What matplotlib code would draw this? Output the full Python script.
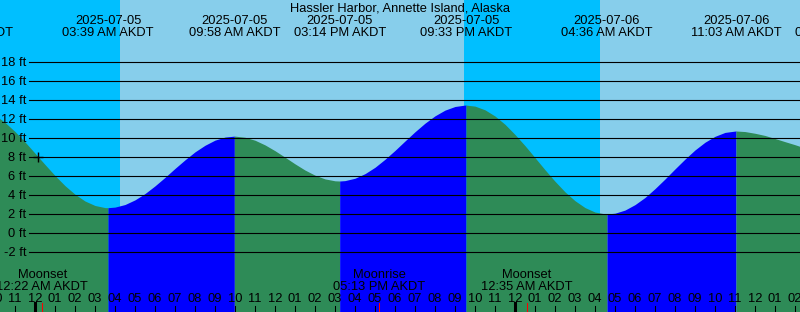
import matplotlib.pyplot as plt

plt.rcParams['font.family'] = ['Liberation Sans', 'DejaVu Sans']

# half-hourly readings, hours relative to midnight starting 2025-07-05 (AKDT)
hours = [h / 2 for h in range(-4, 80)]
heights = [12.41, 11.64, 10.68, 9.59, 8.41, 7.22, 6.06, 5.00, 4.10, 3.39,
           2.92, 2.70, 2.75, 3.02, 3.51, 4.17, 4.98, 5.87, 6.81, 7.71,
           8.55, 9.24, 9.78, 10.10, 10.20, 10.08, 9.77, 9.28, 8.67, 7.99,
           7.29, 6.64, 6.10, 5.71, 5.51, 5.53, 5.78, 6.26, 6.93, 7.77,
           8.70, 9.69, 10.66, 11.56, 12.33, 12.93, 13.31, 13.46, 13.35, 12.96,
           12.31, 11.44, 10.37, 9.20, 7.94, 6.67, 5.46, 4.35, 3.42, 2.70,
           2.23, 2.04, 2.11, 2.44, 3.01, 3.76, 4.69, 5.70, 6.76, 7.79,
           8.75, 9.56, 10.18, 10.59, 10.73, 10.68, 10.50, 10.27, 9.95, 9.62,
           9.30, 8.95, 8.60, 8.25]

# tide extremes (time in hours, height in ft)
event_times = [-3.4, 3.65, 9.967, 15.233, 21.55, 28.6, 35.05, 40.33]
event_heights = [13.3, 2.69, 10.2, 5.49, 13.46, 2.03, 10.74, 7.6]
event_dates = ['2025-07-04', '2025-07-05', '2025-07-05', '2025-07-05',
               '2025-07-05', '2025-07-06', '2025-07-06', '2025-07-06']
event_clock = ['08:36 PM AKDT', '03:39 AM AKDT', '09:58 AM AKDT', '03:14 PM AKDT',
               '09:33 PM AKDT', '04:36 AM AKDT', '11:03 AM AKDT', '04:20 PM AKDT']

sunrise = [4.25, 28.25]
sunset = [21.45]

moon_times = [0.367, 17.217, 24.583]
moon_names = ['Moonset', 'Moonrise', 'Moonset']
moon_clock = ['12:22 AM AKDT', '05:13 PM AKDT', '12:35 AM AKDT']

mark_time, mark_level = 0.13, 8.03

NIGHT = '#00bfff'
DAY = '#87ceeb'
RISING = '#0000ff'
FALLING = '#2e8b57'
FS = 9.3

W, H = 800, 312
fig = plt.figure(figsize=(W / 100, H / 100), dpi=100)
ax = fig.add_axes([0, 0, 1, 1])
x0, x1 = -1.75, 38.25
y0, y1 = -8.26, 24.49
ax.set_xlim(x0, x1)
ax.set_ylim(y0, y1)
ax.axis('off')

# sky: night / day bands
ax.axvspan(x0, sunrise[0], color=NIGHT, lw=0)
ax.axvspan(sunrise[0], sunset[0], color=DAY, lw=0)
ax.axvspan(sunset[0], sunrise[1], color=NIGHT, lw=0)
ax.axvspan(sunrise[1], x1, color=DAY, lw=0)

# water, coloured by rising / falling
pts = sorted(list(zip(hours, heights)) + list(zip(event_times, event_heights)))
for i in range(len(event_times) - 1):
    ta, tb = event_times[i], event_times[i + 1]
    seg = [(t, h) for t, h in pts if ta <= t <= tb]
    ts = [p[0] for p in seg]
    hs = [p[1] for p in seg]
    col = RISING if event_heights[i + 1] > event_heights[i] else FALLING
    ax.fill_between(ts, hs, y0, color=col, lw=0)

# grid lines and level labels
px = (x1 - x0) / W
py = (y1 - y0) / H
for lev in range(-2, 20, 2):
    ax.plot([x0 + 29 * px, x1], [lev, lev], color='black', lw=0.8)
    ax.text(x0 + 26 * px, lev - 4 * py, f'{lev} ft', ha='right', va='baseline',
            fontsize=FS)

ax.plot(mark_time, mark_level, marker='+', color='black', ms=7, mew=1)

xt = ax.get_xaxis_transform()

def ypos(pix):
    return 1 - pix / H

fig.text(0.5, ypos(11.7), 'Hassler Harbor, Annette Island, Alaska',
         ha='center', va='baseline', fontsize=FS)

for t, d, c in zip(event_times, event_dates, event_clock):
    ax.text(t, ypos(24.3), d, transform=xt, ha='center', va='baseline',
            fontsize=FS, clip_on=False)
    ax.text(t, ypos(36), c, transform=xt, ha='center', va='baseline',
            fontsize=FS, clip_on=False)

for t, n, c in zip(moon_times, moon_names, moon_clock):
    ax.text(t, ypos(278.3), n, transform=xt, ha='center', va='baseline',
            fontsize=FS, clip_on=False)
    ax.text(t, ypos(290), c, transform=xt, ha='center', va='baseline',
            fontsize=FS, clip_on=False)
    ax.plot([t, t], [0, 9 / H], transform=xt, color='red', lw=0.75)

# hour ticks along the bottom
for h in range(-2, 40):
    lab = f'{(h % 12) or 12:02d}'
    ax.text(h, ypos(301.7), lab, transform=xt, ha='center', va='baseline',
            fontsize=FS, clip_on=False)
    if h % 24 == 0:
        ax.plot([h, h], [0, 9 / H], transform=xt, color='black', lw=2.2)
    else:
        ax.plot([h, h], [0, 6 / H], transform=xt, color='black', lw=0.75)

fig.savefig('out.png', dpi=100)
